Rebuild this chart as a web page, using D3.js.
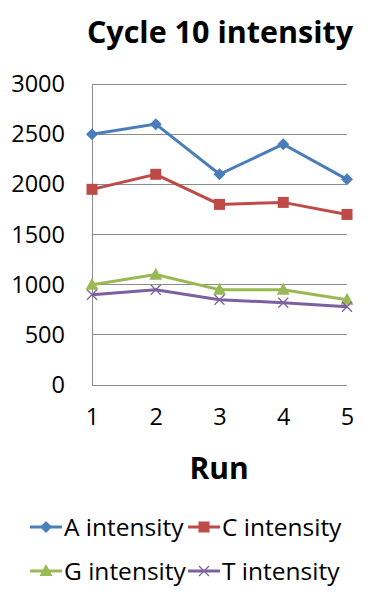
<!DOCTYPE html>
<meta charset="utf-8">
<style>
body { margin: 0; background: #fff; font-family: "Open Sans", sans-serif; }
.grid line { stroke: #8c8c8c; stroke-width: 1; shape-rendering: crispEdges; }
.axis path, .axis line { display: none; }
.axis text { font-size: 23.5px; fill: #000; font-family: "Open Sans", sans-serif; }
</style>
<body>
<div id="chart"></div>
<script src="https://d3js.org/d3.v7.min.js"></script>
<script>
// chart data
var runs = [1, 2, 3, 4, 5];
var seriesNames = ["A intensity", "C intensity", "G intensity", "T intensity"];
var aIntensity = [2500, 2600, 2100, 2400, 2050];
var cIntensity = [1950, 2100, 1800, 1820, 1700];
var gIntensity = [1000, 1100, 950, 950, 850];
var tIntensity = [900, 950, 850, 820, 780];
var yTicks = [0, 500, 1000, 1500, 2000, 2500, 3000];

var colors = ["#4a7ebb", "#be4b48", "#98b954", "#7d60a0"];
var shapes = ["diamond", "square", "triangle", "cross"];
var allValues = [aIntensity, cIntensity, gIntensity, tIntensity];

var width = 370, height = 599,
    margin = {top: 84, right: 23, bottom: 214, left: 92};

var svg = d3.select("#chart").append("svg")
    .attr("width", width)
    .attr("height", height);

var plotW = width - margin.left - margin.right,
    plotH = height - margin.top - margin.bottom;

var x = d3.scalePoint().domain(runs).range([0, plotW]);
var y = d3.scaleLinear().domain([0, 3000]).range([plotH, 0]);

// title
svg.append("text")
    .attr("x", 220).attr("y", 43)
    .attr("text-anchor", "middle")
    .style("font-size", "30.5px").style("font-weight", "bold")
    .text("Cycle 10 intensity");

var g = svg.append("g").attr("transform", `translate(${margin.left},${margin.top})`);

// gridlines
g.append("g").attr("class", "grid")
  .selectAll("line").data(yTicks).enter().append("line")
    .attr("x1", 0).attr("x2", plotW)
    .attr("y1", d => y(d)).attr("y2", d => y(d));

// left axis line
g.append("line")
    .attr("x1", 0).attr("x2", 0).attr("y1", 0).attr("y2", plotH)
    .style("stroke", "#8c8c8c").style("shape-rendering", "crispEdges");

// y axis labels
g.append("g").attr("class", "axis")
    .attr("transform", "translate(-27,0)")
    .call(d3.axisLeft(y).tickValues(yTicks).tickFormat(d3.format("d")).tickSize(0).tickPadding(0));

// x axis labels
g.append("g").attr("class", "axis")
    .attr("transform", `translate(0,${plotH + 23})`)
    .call(d3.axisBottom(x).tickSize(0).tickPadding(0));

// axis title
svg.append("text")
    .attr("x", 219).attr("y", 479)
    .attr("text-anchor", "middle")
    .style("font-size", "30px").style("font-weight", "bold")
    .text("Run");

function marker(sel, shape, color) {
  if (shape == "diamond") {
    sel.append("path").attr("d", "M0,-6L6,0L0,6L-6,0Z").style("fill", color);
  } else if (shape == "square") {
    sel.append("rect").attr("x", -5.5).attr("y", -5.5).attr("width", 11).attr("height", 11).style("fill", color);
  } else if (shape == "triangle") {
    sel.append("path").attr("d", "M0,-7L6.5,5L-6.5,5Z").style("fill", color);
  } else {
    sel.append("path").attr("d", "M-5,-5L5,5M5,-5L-5,5").style("stroke", color).style("stroke-width", 1.3).style("fill", "none");
  }
}

var line = d3.line().x((d, i) => x(runs[i])).y(d => y(d));

allValues.forEach(function(vals, s) {
  g.append("path")
    .datum(vals)
    .attr("d", line)
    .style("fill", "none")
    .style("stroke", colors[s])
    .style("stroke-width", 3);
  vals.forEach(function(v, i) {
    var m = g.append("g").attr("transform", `translate(${x(runs[i])},${y(v)})`);
    marker(m, shapes[s], colors[s]);
  });
});

// legend
var legPos = [[30, 527], [188, 527], [30, 571], [188, 571]];
seriesNames.forEach(function(name, s) {
  var lg = svg.append("g").attr("transform", `translate(${legPos[s][0]},${legPos[s][1]})`);
  lg.append("line").attr("x1", 0).attr("x2", 32).attr("y1", 0).attr("y2", 0)
    .style("stroke", colors[s]).style("stroke-width", 3);
  var m = lg.append("g").attr("transform", "translate(16,0)");
  marker(m, shapes[s], colors[s]);
  lg.append("text").attr("x", 34).attr("y", 0).attr("dy", "0.36em")
    .style("font-size", "24.5px")
    .text(name);
});
</script>
</body>
